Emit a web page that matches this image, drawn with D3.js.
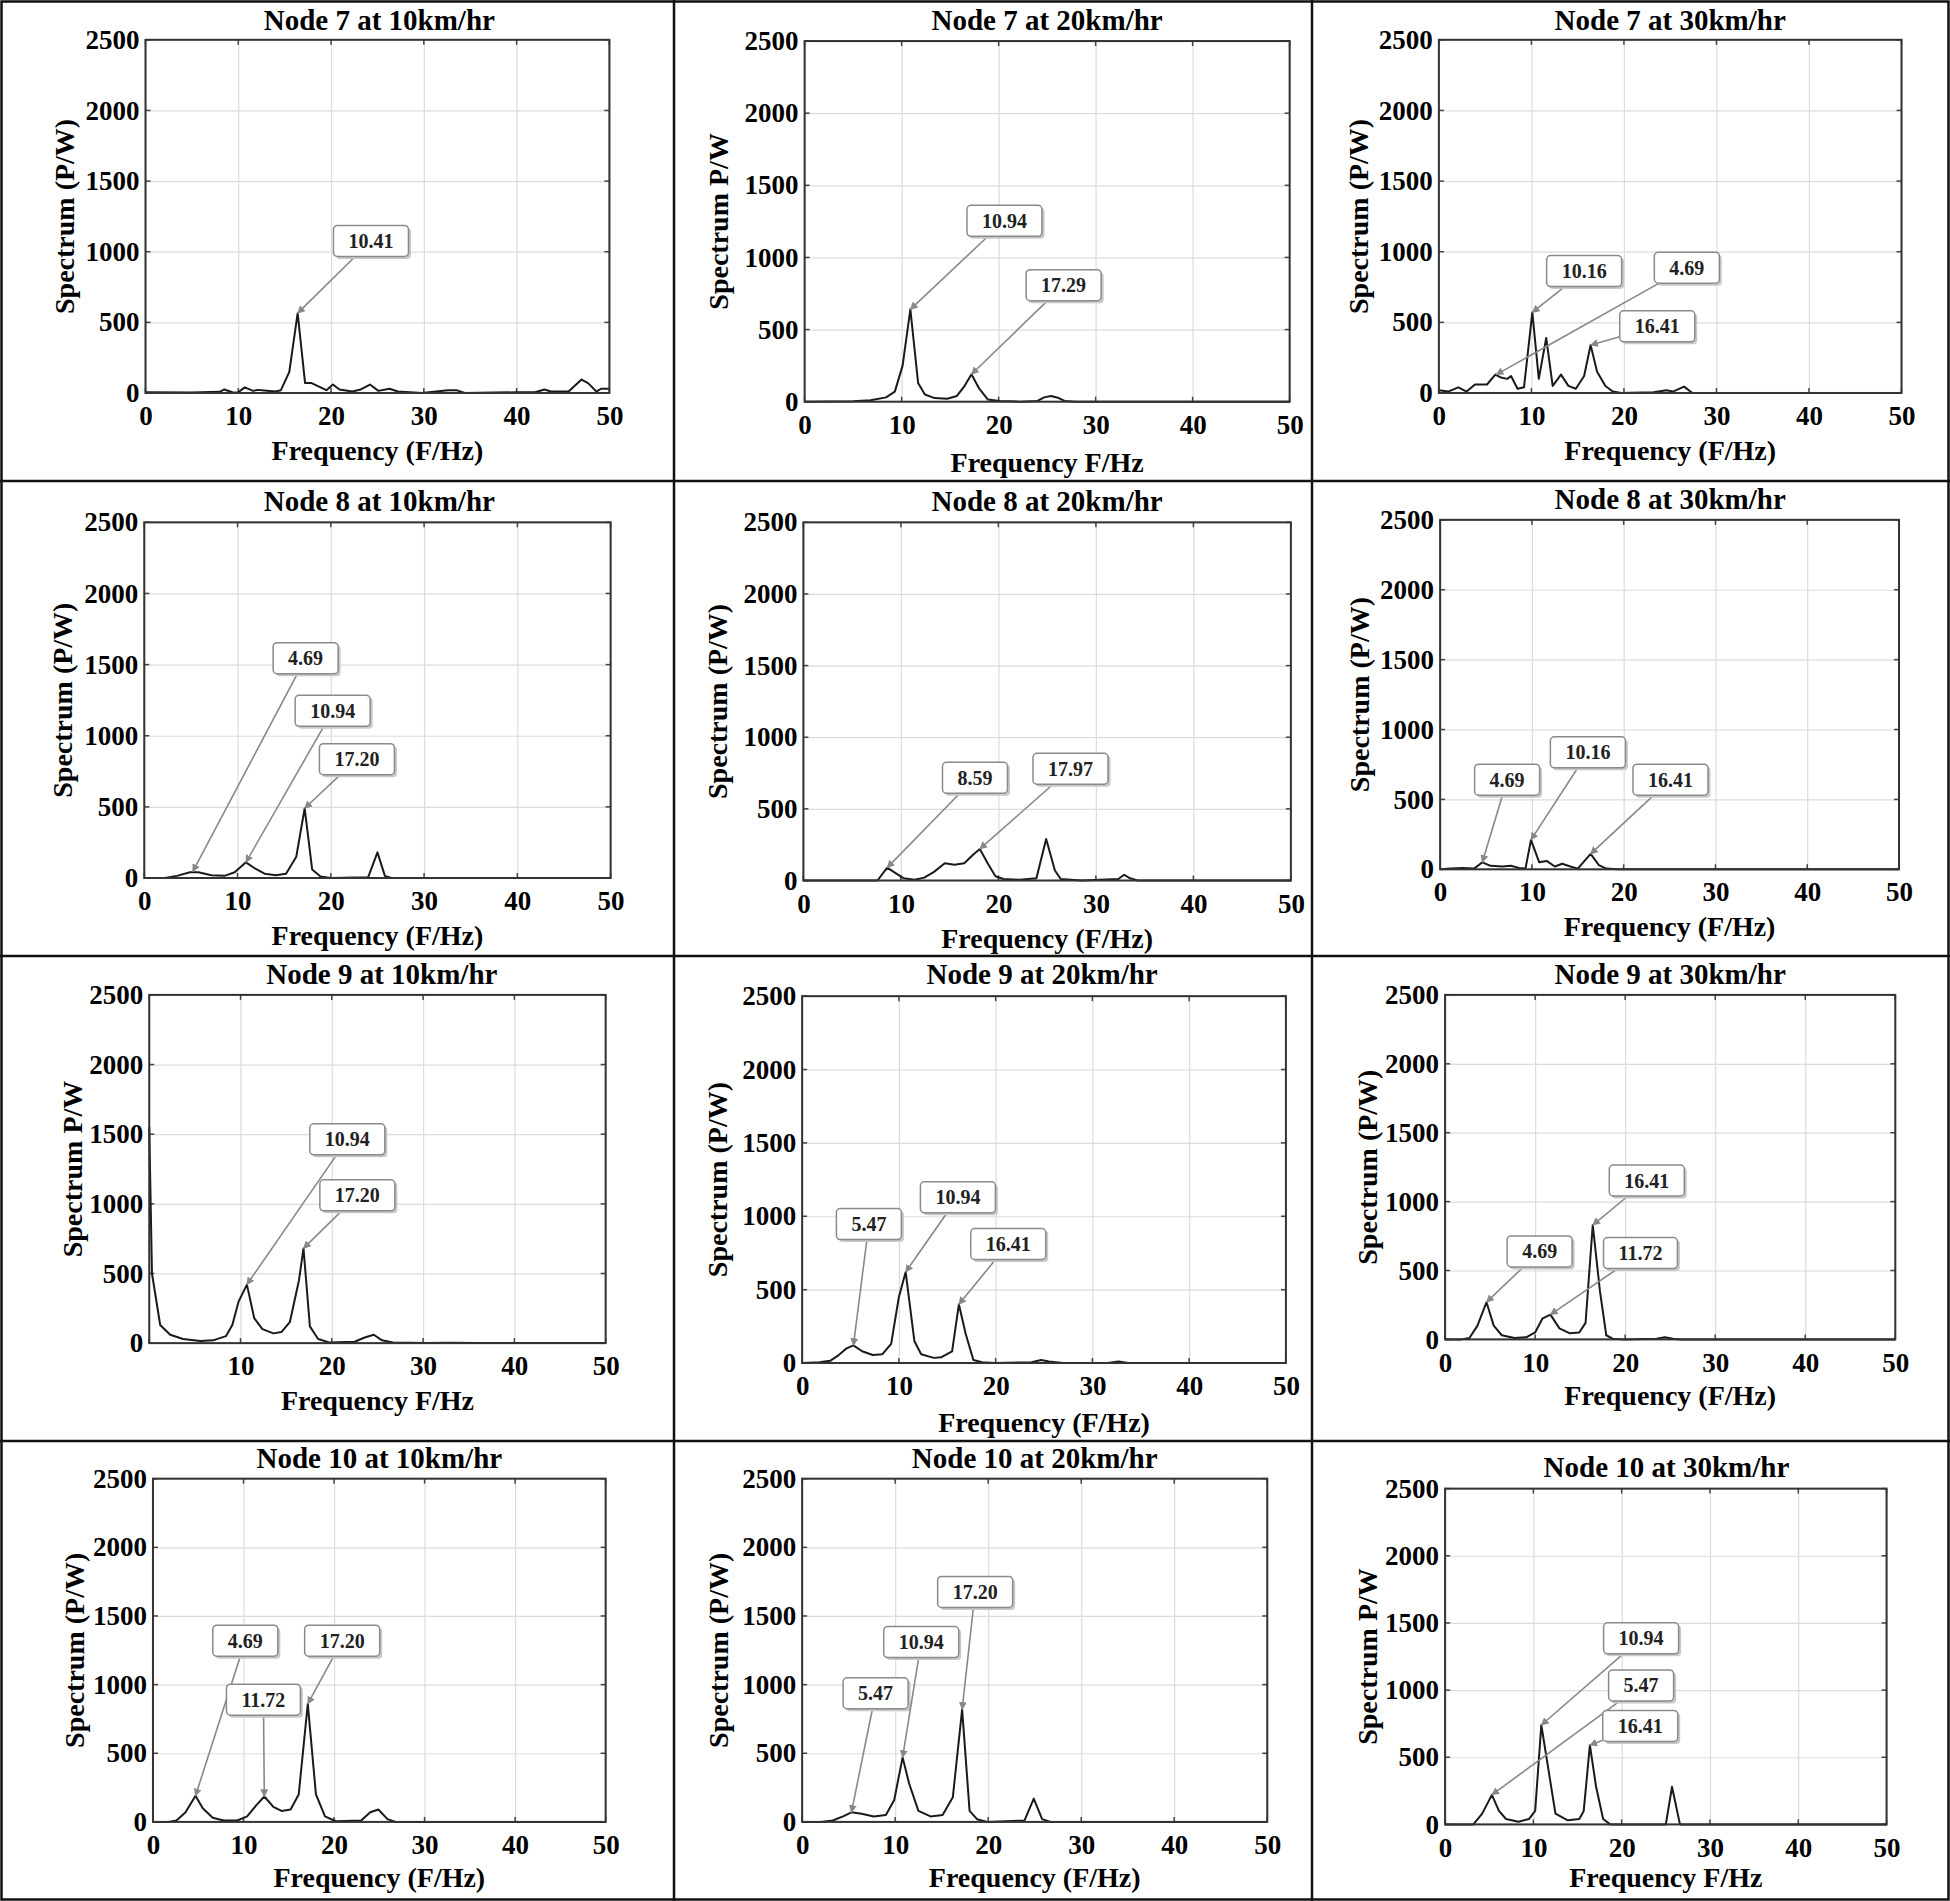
<!DOCTYPE html>
<html>
<head>
<meta charset="utf-8">
<script src="https://cdn.jsdelivr.net/npm/d3@7"></script>
<style>
  body { margin: 0; background: #fff; }
  svg text { font-family: "Liberation Serif", "Times New Roman", serif; font-weight: bold; }
</style>
</head>
<body>
<script>
// Spectrum data: [frequency (Hz), spectrum (P/W)]
const node7_10 = [[0,5],[5,3],[8,8],[8.5,25],[9.5,2],[10,5],[10.7,40],[11.6,15],[12.1,22],[12.8,18],[14,10],[14.6,20],[15.5,150],[16.4,565],[17.2,70],[17.9,70],[19.5,20],[20.2,60],[20.9,25],[22.3,10],[23.2,25],[24.2,60],[25.1,15],[26.3,30],[27.2,10],[29.8,0],[32.6,20],[33.5,20],[34.4,0],[40,5],[42,5],[43,25],[43.7,10],[45.6,10],[47,95],[47.7,70],[48.6,10],[49.1,30],[50,30]];
const node7_20 = [[0,0],[5,3],[6.8,10],[8.4,30],[9.3,70],[10.1,250],[10.9,640],[11.7,130],[12.4,50],[13.4,25],[14.7,20],[15.7,40],[16.5,110],[17.2,190],[18.0,90],[18.9,15],[20.1,5],[22.2,0],[24,5],[24.7,30],[25.4,40],[26.2,25],[26.8,5],[28,0],[50,0]];
const node7_30 = [[0,20],[1.0,10],[2.1,40],[3.0,10],[3.9,60],[5.2,60],[6.1,130],[6.7,110],[7.4,100],[7.8,120],[8.5,30],[9.2,40],[10.1,570],[10.8,100],[11.6,390],[12.3,50],[13.2,130],[14.0,50],[14.8,30],[15.7,120],[16.4,340],[17.1,150],[18.0,50],[18.8,10],[19.7,0],[23.2,5],[24.6,20],[25.3,10],[26.5,45],[27.4,0],[50,0]];
const node8_10 = [[0,0],[2.2,0],[3.5,15],[4.9,40],[5.8,40],[7.2,20],[8.6,15],[9.7,40],[10.9,110],[11.8,70],[12.9,30],[14.1,20],[15.2,30],[16.3,150],[17.2,490],[18.0,60],[18.9,10],[20,0],[24,5],[25.0,180],[25.8,15],[26.5,0],[50,0]];
const node8_20 = [[0,0],[7.6,0],[8.6,90],[9.5,50],[10.3,15],[11.4,5],[12.4,20],[13.4,60],[14.5,120],[15.5,110],[16.5,120],[17.4,180],[18.1,220],[18.9,120],[19.7,30],[20.5,10],[22.2,5],[23.9,15],[24.9,290],[25.8,70],[26.4,10],[28.5,0],[32.3,10],[32.9,40],[33.5,15],[34.3,0],[50,0]];
const node8_30 = [[0,0],[1.1,5],[2.4,10],[3.7,5],[4.6,50],[5.5,25],[6.8,20],[7.7,25],[8.6,10],[9.3,5],[9.9,210],[10.8,50],[11.6,60],[12.5,20],[13.3,40],[14.2,20],[15.0,5],[16.4,110],[17.3,30],[18.1,5],[19.3,0],[50,0]];
const node9_10 = [[0,1550],[0.3,500],[1.2,130],[2.3,60],[3.7,30],[5.6,15],[7.0,20],[8.4,50],[9.1,130],[9.8,300],[10.7,420],[11.5,180],[12.4,100],[13.6,70],[14.5,80],[15.4,150],[16.4,450],[16.9,680],[17.6,120],[18.5,30],[19.7,5],[22.5,10],[23.6,40],[24.6,60],[25.5,20],[26.7,5],[30.4,0],[32.8,3],[36,0],[50,0]];
const node9_20 = [[0,0],[1.8,5],[2.9,15],[3.7,50],[4.6,100],[5.3,120],[6.2,80],[7.3,55],[8.3,60],[9.2,130],[10.0,450],[10.7,620],[11.6,150],[12.3,60],[13.6,35],[14.4,40],[15.5,80],[16.2,400],[16.9,200],[17.7,20],[18.6,5],[19.9,0],[23.7,5],[24.7,20],[25.5,10],[27.0,0],[31.6,0],[32.7,10],[33.7,0],[50,0]];
const node9_30 = [[0,0],[1.8,0],[2.7,10],[3.6,100],[4.6,270],[5.4,100],[6.3,30],[7.7,10],[9.0,15],[10.0,50],[10.8,150],[11.7,180],[12.7,80],[13.8,45],[14.9,50],[15.6,120],[16.4,830],[17.2,350],[17.9,30],[18.6,5],[19.9,0],[23.5,5],[24.4,15],[25.3,5],[26.2,0],[50,0]];
const node10_10 = [[0,0],[1.7,0],[2.6,10],[3.6,70],[4.7,190],[5.5,100],[6.6,30],[7.8,10],[9.3,10],[10.4,40],[11.4,120],[12.3,185],[13.3,110],[14.2,80],[15.2,90],[16.1,200],[17.1,860],[18.0,200],[19.0,40],[20.2,5],[23.0,10],[24.0,70],[24.9,90],[25.9,20],[26.8,0],[50,0]];
const node10_20 = [[0,0],[2.0,0],[3.3,10],[4.4,40],[5.3,70],[6.4,60],[7.7,40],[9.0,50],[9.9,160],[10.8,470],[11.5,280],[12.5,80],[13.8,40],[15.1,50],[16.2,180],[17.2,820],[18.0,80],[18.8,20],[19.9,0],[23.9,10],[24.9,170],[25.8,20],[26.7,0],[50,0]];
const node10_30 = [[0,0],[3.2,0],[4.2,80],[5.3,220],[6.1,100],[6.9,40],[8.3,20],[9.5,40],[10.2,100],[10.9,740],[11.6,450],[12.5,80],[13.9,30],[15.2,40],[15.7,100],[16.4,590],[17.1,280],[17.9,40],[18.7,0],[25.0,0],[25.7,280],[26.6,0],[50,0]];

const series = [node7_10, node7_20, node7_30, node8_10, node8_20, node8_30,
                node9_10, node9_20, node9_30, node10_10, node10_20, node10_30];

const titles = ["Node 7 at 10km/hr", "Node 7 at 20km/hr", "Node 7 at 30km/hr",
                "Node 8 at 10km/hr", "Node 8 at 20km/hr", "Node 8 at 30km/hr",
                "Node 9 at 10km/hr", "Node 9 at 20km/hr", "Node 9 at 30km/hr",
                "Node 10 at 10km/hr", "Node 10 at 20km/hr", "Node 10 at 30km/hr"];

const xLabels = ["Frequency (F/Hz)", "Frequency F/Hz", "Frequency (F/Hz)",
                 "Frequency (F/Hz)", "Frequency (F/Hz)", "Frequency (F/Hz)",
                 "Frequency F/Hz", "Frequency (F/Hz)", "Frequency (F/Hz)",
                 "Frequency (F/Hz)", "Frequency (F/Hz)", "Frequency F/Hz"];

const yLabels = ["Spectrum (P/W)", "Spectrum P/W", "Spectrum (P/W)",
                 "Spectrum (P/W)", "Spectrum (P/W)", "Spectrum (P/W)",
                 "Spectrum P/W", "Spectrum (P/W)", "Spectrum (P/W)",
                 "Spectrum (P/W)", "Spectrum (P/W)", "Spectrum P/W"];

const xTicks = [0, 10, 20, 30, 40, 50];
const yTicks = [0, 500, 1000, 1500, 2000, 2500];

// Marked peaks: [label, frequency, spectrum]
const peaks = [
  [["10.41", 16.4, 565]],
  [["10.94", 10.9, 640], ["17.29", 17.2, 190]],
  [["10.16", 10.1, 570], ["4.69", 6.2, 130], ["16.41", 16.4, 340]],
  [["4.69", 5.2, 45], ["10.94", 10.9, 110], ["17.20", 17.2, 490]],
  [["8.59", 8.6, 90], ["17.97", 18.1, 220]],
  [["4.69", 4.6, 50], ["10.16", 9.9, 210], ["16.41", 16.4, 110]],
  [["10.94", 10.7, 420], ["17.20", 16.9, 680]],
  [["5.47", 5.3, 120], ["10.94", 10.7, 620], ["16.41", 16.2, 400]],
  [["16.41", 16.4, 830], ["4.69", 4.6, 270], ["11.72", 11.7, 180]],
  [["4.69", 4.7, 190], ["11.72", 12.3, 185], ["17.20", 17.1, 860]],
  [["5.47", 5.3, 70], ["10.94", 10.8, 470], ["17.20", 17.2, 820]],
  [["10.94", 10.9, 740], ["5.47", 5.3, 220], ["16.41", 16.4, 590]]
];

// Callout box centres, in data units of each panel
const calloutPos = [
  [[24.3, 1076]],
  [[20.6, 1254], [26.7, 808]],
  [[15.7, 863], [26.8, 887], [23.6, 472]],
  [[17.3, 1545], [20.2, 1175], [22.8, 835]],
  [[17.6, 717], [27.4, 780]],
  [[7.3, 641], [16.1, 837], [25.1, 641]],
  [[21.7, 1463], [22.8, 1061]],
  [[6.9, 947], [16.1, 1129], [21.3, 811]],
  [[22.4, 1153], [10.5, 638], [21.7, 626]],
  [[10.2, 1320], [12.2, 890], [20.9, 1320]],
  [[7.9, 937], [12.8, 1310], [18.6, 1675]],
  [[22.2, 1385], [22.2, 1035], [22.1, 733]]
];

// Panel geometry measured on a 1568 wide copy of the figure:
// [x0, x1, yTop, yBottom, titleX, titleY, xLabelY, yLabelX]
const layout = [
  [117, 490, 32, 316, 305, 16, 362, 52],
  [647, 1037, 33, 323, 842, 16, 372, 578],
  [1157, 1529, 32, 316, 1343, 16, 362, 1092],
  [116, 491, 420, 706, 305, 403, 752, 50],
  [646, 1038, 420, 708, 842, 403, 755, 577],
  [1158, 1527, 418, 699, 1343, 401, 745, 1093],
  [120, 487, 800, 1080, 307, 783, 1126, 58],
  [645, 1034, 801, 1096, 838, 783, 1144, 577],
  [1162, 1524, 800, 1077, 1343, 783, 1122, 1100],
  [123, 487, 1189, 1465, 305, 1172, 1510, 60],
  [645, 1019, 1189, 1465, 832, 1172, 1510, 578],
  [1162, 1517, 1197, 1467, 1340, 1180, 1510, 1100]
];
const S = 1950 / 1568;

const W = 1950, H = 1901;

let svg = d3.select('body').append('svg')
            .attr('width', W)
            .attr('height', H)
            .style('display', 'block');

svg.append('rect')
    .attr('width', W).attr('height', H)
    .attr('fill', '#fff');

// little arrow head at the marked point
svg.append('defs').append('marker')
    .attr('id', 'tip')
    .attr('viewBox', '0 0 10 10')
    .attr('refX', 9).attr('refY', 5)
    .attr('markerWidth', 5).attr('markerHeight', 5)
    .attr('orient', 'auto')
    .append('path')
        .attr('d', 'M0,0 L10,5 L0,10 z')
        .attr('fill', '#888');

// panel separators + outer frame
const colEdges = [674, 1312];
const rowEdges = [481, 956, 1441];
let frame = svg.append('g').attr('stroke', '#111').attr('stroke-width', 2.5);
frame.append('rect')
    .attr('x', 1.5).attr('y', 1.5)
    .attr('width', W - 3).attr('height', H - 3)
    .attr('fill', 'none');
colEdges.forEach(cx => frame.append('line').attr('x1', cx).attr('x2', cx).attr('y1', 0).attr('y2', H));
rowEdges.forEach(ry => frame.append('line').attr('x1', 0).attr('x2', W).attr('y1', ry).attr('y2', ry));

function edgePoint(cx, cy, hw, hh, tx, ty) {
    let dx = tx - cx, dy = ty - cy;
    let t = Math.min(hw / Math.max(Math.abs(dx), 1e-6), hh / Math.max(Math.abs(dy), 1e-6));
    return [cx + dx * t, cy + dy * t];
}

const fmt = d3.format('d');

series.forEach(function (data, i) {
    let [x0, x1, yT, yB, tX, tY, xlY, ylX] = layout[i].map(v => v * S);

    let x = d3.scaleLinear().domain([0, 50]).range([x0, x1]);
    let y = d3.scaleLinear().domain([0, 2500]).range([yB, yT]);

    let g = svg.append('g').attr('class', 'panel');

    // grid
    g.append('g')
        .attr('transform', `translate(0,${yB})`)
        .call(d3.axisBottom(x).tickValues(xTicks).tickSize(-(yB - yT)).tickFormat(''))
        .call(a => a.select('.domain').remove())
        .selectAll('line').attr('stroke', '#dcdcdc').attr('stroke-width', 1.2);
    g.append('g')
        .attr('transform', `translate(${x0},0)`)
        .call(d3.axisLeft(y).tickValues(yTicks).tickSize(-(x1 - x0)).tickFormat(''))
        .call(a => a.select('.domain').remove())
        .selectAll('line').attr('stroke', '#dcdcdc').attr('stroke-width', 1.2);

    // inner ticks on all four sides
    let ticks = g.append('g').attr('stroke', '#444').attr('stroke-width', 1.5);
    xTicks.forEach(t => {
        ticks.append('line').attr('x1', x(t)).attr('x2', x(t)).attr('y1', yB).attr('y2', yB - 5);
        ticks.append('line').attr('x1', x(t)).attr('x2', x(t)).attr('y1', yT).attr('y2', yT + 5);
    });
    yTicks.forEach(t => {
        ticks.append('line').attr('x1', x0).attr('x2', x0 + 5).attr('y1', y(t)).attr('y2', y(t));
        ticks.append('line').attr('x1', x1).attr('x2', x1 - 5).attr('y1', y(t)).attr('y2', y(t));
    });

    // tick labels
    let xAxis = g.append('g')
        .attr('transform', `translate(0,${yB})`)
        .call(d3.axisBottom(x).tickValues(i === 6 ? xTicks.slice(1) : xTicks)
                .tickFormat(fmt).tickSize(0).tickPadding(13));
    xAxis.select('.domain').remove();
    xAxis.selectAll('text').attr('font-size', 27).attr('fill', '#000')
        .style('font-family', '"Liberation Serif", serif').style('font-weight', 'bold');

    let yAxis = g.append('g')
        .attr('transform', `translate(${x0},0)`)
        .call(d3.axisLeft(y).tickValues(yTicks).tickFormat(fmt).tickSize(0).tickPadding(6));
    yAxis.select('.domain').remove();
    yAxis.selectAll('text').attr('font-size', 27).attr('fill', '#000')
        .style('font-family', '"Liberation Serif", serif').style('font-weight', 'bold');

    // the spectrum
    g.append('path')
        .datum(data)
        .attr('fill', 'none')
        .attr('stroke', '#1a1a1a')
        .attr('stroke-width', 2)
        .attr('stroke-linejoin', 'round')
        .attr('d', d3.line().x(d => x(d[0])).y(d => y(d[1])));

    // axes box
    g.append('rect')
        .attr('x', x0).attr('y', yT)
        .attr('width', x1 - x0).attr('height', yB - yT)
        .attr('fill', 'none')
        .attr('stroke', '#333')
        .attr('stroke-width', 2);

    // titles
    g.append('text')
        .attr('x', tX).attr('y', tY)
        .attr('text-anchor', 'middle')
        .attr('dominant-baseline', 'central')
        .attr('font-size', 29)
        .text(titles[i]);
    g.append('text')
        .attr('x', (x0 + x1) / 2).attr('y', xlY)
        .attr('text-anchor', 'middle')
        .attr('dominant-baseline', 'central')
        .attr('font-size', 28)
        .text(xLabels[i]);
    g.append('text')
        .attr('transform', `translate(${ylX},${(yT + yB) / 2}) rotate(-90)`)
        .attr('text-anchor', 'middle')
        .attr('dominant-baseline', 'central')
        .attr('font-size', 28)
        .text(yLabels[i]);

    // callouts
    peaks[i].forEach(function (pk, k) {
        let [label, f, p] = pk;
        let cx = x(calloutPos[i][k][0]), cy = y(calloutPos[i][k][1]);
        let tx = x(f), ty = y(p);

        let cg = g.append('g');
        let txt = cg.append('text')
            .attr('x', cx).attr('y', cy)
            .attr('text-anchor', 'middle')
            .attr('dominant-baseline', 'central')
            .attr('font-size', 20)
            .attr('fill', '#222')
            .text(label);
        let bw = txt.node().getComputedTextLength() + 30, bh = 31;

        let [sx, sy] = edgePoint(cx, cy, bw / 2, bh / 2, tx, ty);
        cg.insert('line', 'text')
            .attr('x1', sx).attr('y1', sy)
            .attr('x2', tx).attr('y2', ty)
            .attr('stroke', '#888')
            .attr('stroke-width', 1.6)
            .attr('marker-end', 'url(#tip)');
        cg.insert('rect', 'text')
            .attr('x', cx - bw / 2 + 2.5).attr('y', cy - bh / 2 + 2.5)
            .attr('width', bw).attr('height', bh)
            .attr('rx', 4)
            .attr('fill', '#c8c8c8');
        cg.insert('rect', 'text')
            .attr('x', cx - bw / 2).attr('y', cy - bh / 2)
            .attr('width', bw).attr('height', bh)
            .attr('rx', 4)
            .attr('fill', '#fff')
            .attr('stroke', '#8a8a8a')
            .attr('stroke-width', 1.5);
    });
});
</script>
</body>
</html>
